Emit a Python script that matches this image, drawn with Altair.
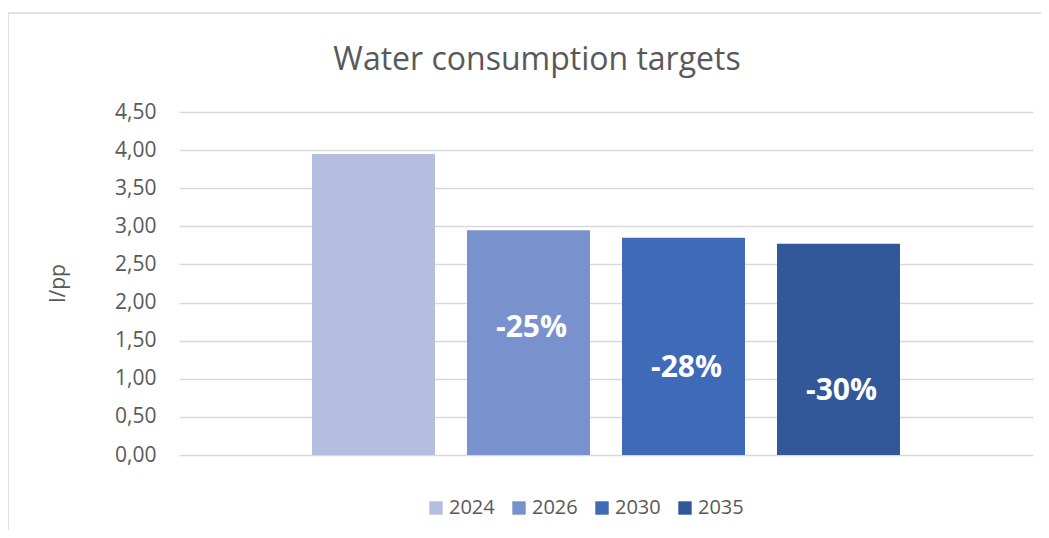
import altair as alt
import pandas as pd

years = ["2024", "2026", "2030", "2035"]
values = [3.95, 2.95, 2.85, 2.77]
reductions = ["", "-25%", "-28%", "-30%"]
label_pos = [None, 1.55, 1.02, 0.72]
colors = ["#B4BEDF", "#7992CE", "#3E6AB7", "#32589A"]
y_ticks = [0, 0.5, 1.0, 1.5, 2.0, 2.5, 3.0, 3.5, 4.0, 4.5]

df = pd.DataFrame({"year": years, "value": values, "label": reductions, "label_y": label_pos})
GRAY = "#595959"
FONT = "Open Sans"

x_enc = alt.X("year:N", axis=None,
              scale=alt.Scale(paddingInner=0.2065, paddingOuter=0.858))
y_scale = alt.Scale(domain=[0, 4.5], nice=False)
y_axis = alt.Axis(values=y_ticks, title="l/pp", labelOverlap=False,
                  labelExpr="replace(format(datum.value, '.2f'), '.', ',')",
                  domain=False, ticks=False, grid=True,
                  gridColor="#D9D9D9", gridWidth=1.3,
                  labelFont=FONT, labelFontSize=21, labelColor=GRAY,
                  labelPadding=23,
                  titleFont=FONT, titleFontSize=21, titleFontWeight="normal",
                  titleColor=GRAY, titleX=-115, titleY=171,
                  titleAlign="center", titleBaseline="alphabetic")

bars = alt.Chart(df).mark_bar().encode(
    x=x_enc,
    y=alt.Y("value:Q", scale=y_scale, axis=y_axis),
    color=alt.Color("year:N",
                    scale=alt.Scale(domain=years, range=colors),
                    legend=alt.Legend(orient="none", direction="horizontal",
                                      legendX=247, legendY=386, title=None,
                                      symbolType="square", symbolSize=180,
                                      symbolStrokeWidth=0, labelOffset=3,
                                      columnPadding=14, padding=0,
                                      labelFont=FONT, labelFontSize=20,
                                      labelColor=GRAY)),
)

labels = alt.Chart(df).transform_filter("datum.label != ''").mark_text(
    color="white", font=FONT, fontWeight="bold", fontSize=30,
    baseline="alphabetic", align="center", dx=3
).encode(
    x=x_enc,
    y=alt.Y("label_y:Q", scale=y_scale, axis=y_axis),
    text="label:N",
)

frame_df = pd.DataFrame({"k": [0]})
frame_v = alt.Chart(frame_df).mark_rule(color="#D9D9D9", strokeWidth=1.5).encode(
    x=alt.value(-171), y=alt.value(-99), y2=alt.value(418))
frame_h = alt.Chart(frame_df).mark_rule(color="#D9D9D9", strokeWidth=1.5).encode(
    x=alt.value(-171), x2=alt.value(862), y=alt.value(-99))

chart = alt.layer(frame_v, frame_h, bars, labels).properties(
    width=854, height=343,
    autosize=alt.AutoSizeParams(type="none"),
    padding={"left": 171, "top": 104, "right": 8, "bottom": 75},
    background="white",
    title=alt.TitleParams("Water consumption targets", font=FONT, fontSize=32,
                          fontWeight="normal", color=GRAY, anchor="middle",
                          frame="group", dx=-69, offset=-90, baseline="alphabetic"),
).configure_view(stroke=None)

chart.save("out.html", embed_options={"renderer": "svg", "actions": False})
